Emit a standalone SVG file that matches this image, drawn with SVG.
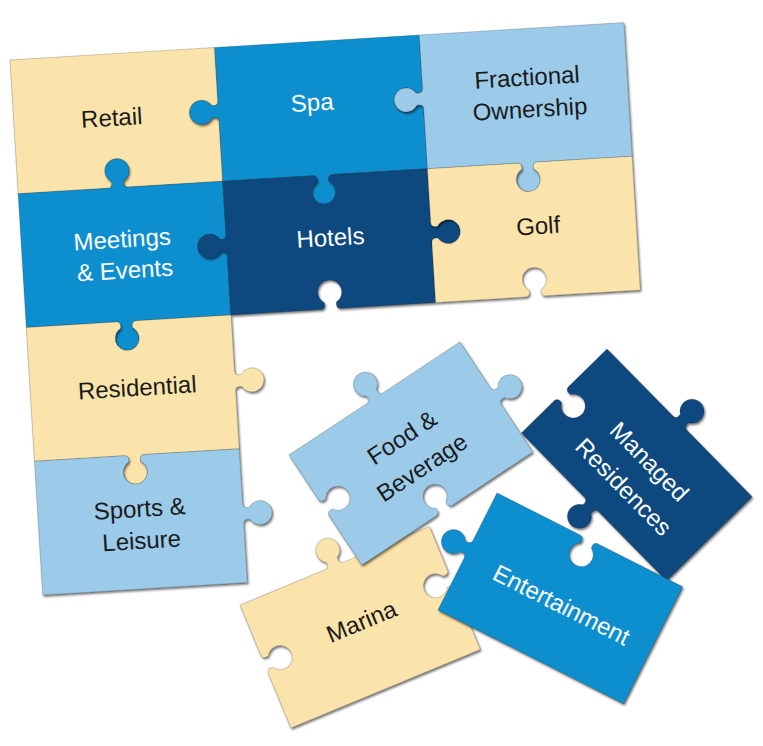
<svg xmlns="http://www.w3.org/2000/svg" width="763" height="746" viewBox="0 0 763 746">
<defs>
<filter id="sh" x="-15%" y="-15%" width="135%" height="135%"><feDropShadow dx="1.2" dy="1.8" stdDeviation="1.2" flood-color="#000" flood-opacity="0.55"/></filter>
</defs>
<style>
.pc{stroke:#000;stroke-opacity:.18;stroke-width:1}
.y{fill:#fbe4ab}.m{fill:#0b8fcf}.l{fill:#9ccbea}.n{fill:#11497f}
text{font-family:"Liberation Sans",Arial,sans-serif;font-size:24px;text-anchor:middle}
.dk{fill:#1a1a1a}.wt{fill:#fff}
</style>
<rect width="763" height="746" fill="#fff"/>

<g id="retail">
<g filter="url(#sh)"><path class="pc y" transform="translate(10,60) rotate(-3.5)" d="M0,0 L205,0 L205,54 Q205,59 198.4,58 A12 12 0 1 0 198.4,70 Q205,69 205,74 L205,134 L110,134 Q105,134 106,127.4 A12 12 0 1 0 94,127.4 Q95,134 90,134 L0,134 Z"/></g>
<text class="dk" transform="translate(10,60) rotate(-3.5)" x="98" y="72">Retail</text>
</g>

<g id="spa">
<g filter="url(#sh)"><path class="pc m" transform="translate(10,60) rotate(-3.5) translate(205,0)" d="M0,0 L205,0 L205,54 Q205,59 198.4,58 A12 12 0 1 0 198.4,70 Q205,69 205,74 L205,134 L110,134 Q105,134 106,140.6 A12 12 0 1 1 94,140.6 Q95,134 90,134 L0,134 L0,74 Q0,69 -6.6,70 A12 12 0 1 1 -6.6,58 Q0,59 0,54 Z"/></g>
<text class="wt" transform="translate(10,60) rotate(-3.5)" x="299" y="69">Spa</text>
</g>

<g id="fractional">
<g filter="url(#sh)"><path class="pc l" transform="translate(10,60) rotate(-3.5) translate(410,0)" d="M0,0 L205,0 L205,134 L110,134 Q105,134 106,140.6 A12 12 0 1 1 94,140.6 Q95,134 90,134 L0,134 L0,74 Q0,69 -6.6,70 A12 12 0 1 1 -6.6,58 Q0,59 0,54 Z"/></g>
<text class="dk" transform="translate(10,60) rotate(-3.5)" x="515" y="57">Fractional</text>
<text class="dk" transform="translate(10,60) rotate(-3.5)" x="516" y="89">Ownership</text>
</g>

<g id="meetings">
<g filter="url(#sh)"><path class="pc m" transform="translate(10,60) rotate(-3.5) translate(0,134)" d="M0,0 L90,0 Q95,0 94,-6.6 A12 12 0 1 1 106,-6.6 Q105,0 110,0 L205,0 L205,54 Q205,59 198.4,58 A12 12 0 1 0 198.4,70 Q205,69 205,74 L205,134 L110,134 Q105,134 106,140.6 A12 12 0 1 1 94,140.6 Q95,134 90,134 L0,134 Z"/></g>
<text class="wt" transform="translate(10,60) rotate(-3.5)" x="101" y="194">Meetings</text>
<text class="wt" transform="translate(10,60) rotate(-3.5)" x="102" y="225">&amp; Events</text>
</g>

<g id="hotels">
<g filter="url(#sh)"><path class="pc n" transform="translate(10,60) rotate(-3.5) translate(205,134)" d="M0,0 L90,0 Q95,0 94,6.6 A12 12 0 1 0 106,6.6 Q105,0 110,0 L205,0 L205,54 Q205,59 211.6,58 A12 12 0 1 1 211.6,70 Q205,69 205,74 L205,134 L110,134 Q105,134 106,127.4 A12 12 0 1 0 94,127.4 Q95,134 90,134 L0,134 L0,74 Q0,69 -6.6,70 A12 12 0 1 1 -6.6,58 Q0,59 0,54 Z"/></g>
<text class="wt" transform="translate(10,60) rotate(-3.5)" x="309" y="205">Hotels</text>
</g>

<g id="golf">
<g filter="url(#sh)"><path class="pc y" transform="translate(10,60) rotate(-3.5) translate(410,134)" d="M0,0 L90,0 Q95,0 94,6.6 A12 12 0 1 0 106,6.6 Q105,0 110,0 L205,0 L205,134 L110,134 Q105,134 106,127.4 A12 12 0 1 0 94,127.4 Q95,134 90,134 L0,134 L0,74 Q0,69 6.6,70 A12 12 0 1 0 6.6,58 Q0,59 0,54 Z"/></g>
<text class="dk" transform="translate(10,60) rotate(-3.5)" x="517" y="206">Golf</text>
</g>

<g id="residential">
<g filter="url(#sh)"><path class="pc y" transform="translate(10,60) rotate(-3.5) translate(0,268)" d="M0,0 L90,0 Q95,0 94,6.6 A12 12 0 1 0 106,6.6 Q105,0 110,0 L205,0 L205,56 Q205,61 211.6,60 A12 12 0 1 1 211.6,72 Q205,71 205,76 L205,134 L110,134 Q105,134 106,140.6 A12 12 0 1 1 94,140.6 Q95,134 90,134 L0,134 Z"/></g>
<text class="dk" transform="translate(10,60) rotate(-3.5)" x="107" y="343">Residential</text>
</g>

<g id="sports">
<g filter="url(#sh)"><path class="pc l" transform="translate(10,60) rotate(-3.5) translate(0,402)" d="M0,0 L90,0 Q95,0 94,6.6 A12 12 0 1 0 106,6.6 Q105,0 110,0 L205,0 L205,55 Q205,60 211.6,59 A12 12 0 1 1 211.6,71 Q205,70 205,75 L205,134 L0,134 Z"/></g>
<text class="dk" transform="translate(10,60) rotate(-3.5)" x="102" y="464">Sports &amp;</text>
<text class="dk" transform="translate(10,60) rotate(-3.5)" x="102" y="496">Leisure</text>
</g>

<g id="marina">
<g filter="url(#sh)"><path class="pc y" transform="translate(240,605) rotate(-22.5)" d="M0,0 L92,0 Q97,0 96,-6.6 A12 12 0 1 1 108,-6.6 Q107,0 112,0 L205,0 L205,47 Q205,52 198.4,51 A12 12 0 1 0 198.4,63 Q205,62 205,67 L205,133 L0,133 L0,74 Q0,69 6.6,70 A12 12 0 1 0 6.6,58 Q0,59 0,54 Z"/></g>
<text class="dk" transform="translate(240,605) rotate(-22.5)" x="106" y="70">Marina</text>
</g>

<g id="managed-residences">
<g filter="url(#sh)"><path class="pc n" transform="translate(607,349) rotate(45.5)" d="M0,0 L94,0 Q99,0 98,-6.6 A12 12 0 1 1 110,-6.6 Q109,0 114,0 L207,0 L207,120 L110,120 Q105,120 106,126.6 A12 12 0 1 1 94,126.6 Q95,120 90,120 L0,120 L0,74 Q0,69 6.6,70 A12 12 0 1 0 6.6,58 Q0,59 0,54 Z"/></g>
<text class="wt" transform="translate(607,349) rotate(45.5)" x="110" y="57">Managed</text>
<text class="wt" transform="translate(607,349) rotate(45.5)" x="110" y="93">Residences</text>
</g>

<g id="food-beverage">
<g filter="url(#sh)"><path class="pc l" transform="translate(289,455) rotate(-33.5)" d="M0,0 L93,0 Q98,0 97,-6.6 A12 12 0 1 1 109,-6.6 Q108,0 113,0 L205,0 L205,55 Q205,60 211.6,59 A12 12 0 1 1 211.6,71 Q205,70 205,75 L205,132 L109,132 Q104,132 105,125.4 A12 12 0 1 0 93,125.4 Q94,132 89,132 L0,132 L0,73 Q0,68 6.6,69 A12 12 0 1 0 6.6,57 Q0,58 0,53 Z"/></g>
<text class="dk" transform="translate(289,455) rotate(-33.5)" x="104" y="56">Food &amp;</text>
<text class="dk" transform="translate(289,455) rotate(-33.5)" x="104" y="92">Beverage</text>
</g>

<g id="entertainment">
<g filter="url(#sh)"><path class="pc m" transform="translate(497,493) rotate(26.8)" d="M0,0 L93,0 Q98,0 97,6.6 A12 12 0 1 0 109,6.6 Q108,0 113,0 L208,0 L208,131 L0,131 L0,73 Q0,68 -6.6,69 A12 12 0 1 1 -6.6,57 Q0,58 0,53 Z"/></g>
<text class="wt" transform="translate(497,493) rotate(26.8)" x="108" y="79">Entertainment</text>
</g>
</svg>
